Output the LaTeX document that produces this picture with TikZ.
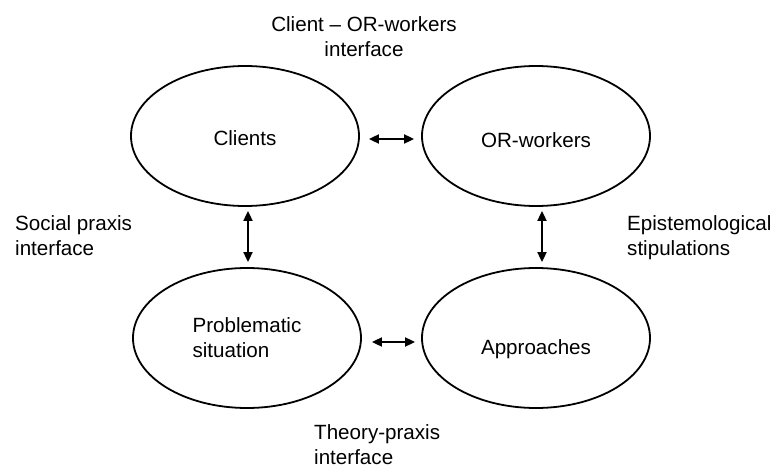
\documentclass[tikz,border=0pt]{standalone}
\usepackage{fontspec}
\setmainfont{Liberation Sans}
\usetikzlibrary{arrows.meta,shapes.geometric}
\tikzset{
  ell/.style={ellipse, draw, line width=1.8pt, inner sep=0pt,
    minimum width=228pt, minimum height=140pt, font=\lbl, align=left},
  lbltext/.style={inner sep=0pt, font=\lbl},
  biarrow/.style={{Triangle[length=10pt,width=9pt]}-{Triangle[length=10pt,width=9pt]}, line width=1.8pt},
}
\newcommand{\lbl}{\fontsize{20.6}{25}\selectfont}
\begin{document}
\begin{tikzpicture}[x=1pt,y=-1pt]
\path[use as bounding box, fill=white] (0,0) rectangle (776,468);

\node[ell, text height=19pt, text depth=0pt] (clients) at (245,136) {Clients};
\node[ell, text height=23pt, text depth=0pt] (orw) at (536,136) {OR-workers};
\node[ell] (prob) at (247,338) {Problematic\\situation};
\node[ell, text height=32pt, text depth=0pt] (appr) at (536,338) {Approaches};

\draw[biarrow, shorten <=9pt, shorten >=7pt] ([yshift=-3pt]clients.east) -- ([yshift=-3pt]orw.west);
\draw[biarrow, shorten <=10pt, shorten >=6pt] ([yshift=-4pt]prob.east) -- ([yshift=-4pt]appr.west);
\draw[biarrow, shorten <=4pt, shorten >=5pt] ([xshift=3pt]clients.south) -- ([xshift=1pt]prob.north);
\draw[biarrow, shorten <=4pt, shorten >=5pt] ([xshift=6pt]orw.south) -- ([xshift=6pt]appr.north);

\node[lbltext, anchor=north, align=center] (coi) at (364,16) {Client -- OR-workers\\interface};
\node[lbltext, anchor=north west, align=left] (spi) at (15,215) {Social praxis\\interface};
\node[lbltext, anchor=north west, align=left] (eps) at (627,215) {Epistemological\\stipulations};
\node[lbltext, anchor=north west, align=left] (tpi) at (314,424) {Theory-praxis\\interface};
\end{tikzpicture}
\end{document}
